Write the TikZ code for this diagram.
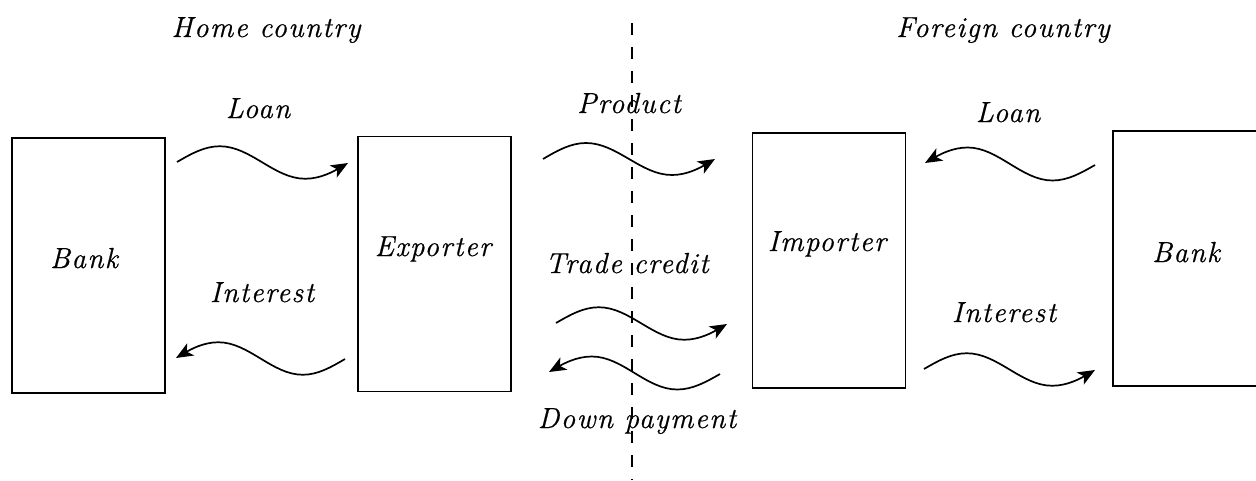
\documentclass[tikz,border=0pt]{standalone}
\usepackage{fontspec}
\setmainfont{Latin Modern Roman}
\newfontfamily\lblfont{Latin Modern Roman}[LetterSpace=5,FakeBold=0.6]
\usetikzlibrary{arrows.meta,calc}
\tikzset{
  box/.style={draw, line width=1.6pt, minimum width=153pt, minimum height=255pt, inner sep=0pt},
  lbl/.style={anchor=base, inner sep=0pt, font=\lblfont\fontsize{29}{32}\selectfont\itshape},
  flow/.style={line width=1.7pt, -{Stealth[length=17pt,width=14pt,inset=4.5pt]}},
  wave/.style={to path={let \p1=(\tikztostart), \p2=(\tikztotarget),
     \n1={(\x2-\x1)/4}, \n2={(\y2-\y1)/4}, \n3={\n2+(#1)}, \n4={\n2-(#1)} in
     sin ++(\n1,\n3) cos ++(\n1,\n4) sin ++(\n1,\n4) cos ++(\n1,\n3) \tikztonodes}},
  divider/.style={line width=1.6pt, dash pattern=on 12pt off 12pt}
}
\begin{document}
\begin{tikzpicture}[x=1pt,y=1pt]
\useasboundingbox (0,0) rectangle (1256,-480);
\clip (0,0) rectangle (1256,-480);

% boxes
\node[box] (bankL) at (88.5,-265.5) {};
\node[box] (exporter) at (434.5,-264) {};
\node[box] (importer) at (829,-260.5) {};
\node[box] (bankR) at (1189.5,-258.5) {};

% box labels
\node[lbl] (tbankL) at (84,-268) {Bank};
\node[lbl] (texporter) at (433,-256) {Exporter};
\node[lbl] (timporter) at (827,-251) {Importer};
\node[lbl] (tbankR) at (1186,-262) {Bank};

% headings
\node[lbl] (home) at (266,-37) {Home country};
\node[lbl] (foreign) at (1003,-37) {Foreign country};

% flow labels
\node[lbl] (tloanL) at (258,-118) {Loan};
\node[lbl] (tproduct) at (629,-113) {Product};
\node[lbl] (tloanR) at (1008,-122) {Loan};
\node[lbl] (tintL) at (262,-302) {Interest};
\node[lbl] (ttrade) at (627,-273) {Trade credit};
\node[lbl] (tintR) at (1004,-322) {Interest};
\node[lbl] (tdown) at (637,-428) {Down payment};

% divider
\coordinate (dtop) at (632,-23);
\coordinate (dbot) at (632,-480);
\draw[divider] (dtop) -- (dbot);

% flow end points
\coordinate (loanL-s) at (177,-162);
\coordinate (loanL-e) at (348,-163);
\coordinate (prod-s) at (543,-159);
\coordinate (prod-e) at (715,-159);
\coordinate (loanR-s) at (1095,-165);
\coordinate (loanR-e) at (925,-163);
\coordinate (intL-s) at (345,-359);
\coordinate (intL-e) at (176,-358);
\coordinate (trade-s) at (556,-323);
\coordinate (trade-e) at (727,-324);
\coordinate (down-s) at (720,-374);
\coordinate (down-e) at (549,-372);
\coordinate (intR-s) at (924,-369);
\coordinate (intR-e) at (1095,-370);

% flows
\draw[flow] (loanL-s) to[wave=16] (loanL-e);
\draw[flow] (prod-s) to[wave=16] (prod-e);
\draw[flow] (loanR-s) to[wave=-16] (loanR-e);
\draw[flow] (intL-s) to[wave=-16] (intL-e);
\draw[flow] (trade-s) to[wave=16] (trade-e);
\draw[flow] (down-s) to[wave=-16] (down-e);
\draw[flow] (intR-s) to[wave=16] (intR-e);
\end{tikzpicture}
\end{document}
